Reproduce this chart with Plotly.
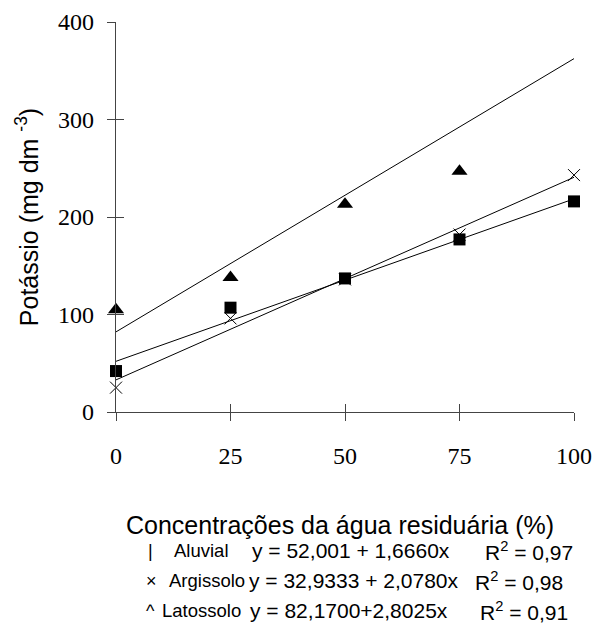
import plotly.graph_objects as go

# ---- data ----
concentracoes = [0, 25, 50, 75, 100]
aluvial = [42, 107, 137, 177, 216]
argissolo = [25, 96, 136, 182, 243]
latossolo = [105, 138, 213, 247, 401]

# regression coefficients (intercept, slope)
coef_aluvial = (52.001, 1.6660)
coef_argissolo = (32.9333, 2.0780)
coef_latossolo = (82.1700, 2.8025)

x_ticks = [0, 25, 50, 75, 100]
y_ticks = [0, 100, 200, 300, 400]

legend_symbols = ["|", "×", "^"]
legend_names = ["Aluvial", "Argissolo", "Latossolo"]
legend_eqs = ["y = 52,001 + 1,6660x", "y = 32,9333 + 2,0780x", "y = 82,1700+2,8025x"]
legend_r2 = ["R<sup>2</sup> = 0,97", "R<sup>2</sup> = 0,98", "R<sup>2</sup> = 0,91"]

# ---- figure ----
OFF = 8  # page body margin
W, H = 594, 626
L, T = 108, 14
R = W - (574.3 - OFF)
B = H - (412.3 - OFF)
pw = W - L - R
ph = H - T - B

fig = go.Figure()

def reg(coef):
    a, b = coef
    xs = [0, 100]
    return xs, [a + b * x for x in xs]

for coef in (coef_aluvial, coef_argissolo, coef_latossolo):
    xs, ys = reg(coef)
    fig.add_trace(go.Scatter(x=xs, y=ys, mode="lines",
                             line=dict(color="black", width=1),
                             showlegend=False, hoverinfo="skip"))

fig.add_trace(go.Scatter(x=concentracoes, y=aluvial, mode="markers",
                         marker=dict(symbol="square", size=12, color="black"),
                         cliponaxis=False, showlegend=False))
fig.add_trace(go.Scatter(x=concentracoes, y=argissolo, mode="markers",
                         marker=dict(symbol="x-thin", size=12,
                                     line=dict(color="black", width=1)),
                         cliponaxis=False, showlegend=False))
fig.add_trace(go.Scatter(x=concentracoes, y=latossolo, mode="markers",
                         marker=dict(symbol="triangle-up", size=14, color="black"),
                         cliponaxis=False, showlegend=False))

# invisible trace for the overlay axes (inner tick halves)
fig.add_trace(go.Scatter(x=[0], y=[0], xaxis="x2", yaxis="y2", mode="markers",
                         marker=dict(opacity=0), showlegend=False, hoverinfo="skip"))

tickfont = dict(family="Liberation Serif, Times New Roman, serif", size=24, color="black")
axline = dict(showline=True, linecolor="#444", linewidth=1.3, showgrid=False, zeroline=False,
              automargin=False)

fig.update_layout(
    width=W, height=H,
    margin=dict(l=L, r=R, t=T, b=B),
    paper_bgcolor="white", plot_bgcolor="white",
    xaxis=dict(range=[0, 100], tickvals=x_ticks, ticktext=[str(v) for v in x_ticks],
               ticks="outside", ticklen=8, tickcolor="#444", tickwidth=1.3,
               tickfont=tickfont, ticklabelstandoff=14, **axline),
    yaxis=dict(range=[0, 400], tickvals=y_ticks, ticktext=[str(v) for v in y_ticks],
               ticks="outside", ticklen=8, tickcolor="#444", tickwidth=1.3,
               tickfont=tickfont, ticklabelstandoff=8,
               title=dict(text="Potássio (mg dm <sup>-3</sup>)",
                          font=dict(family="Liberation Sans, Arial, sans-serif", size=25, color="black"),
                          standoff=12),
               **axline),
    xaxis2=dict(range=[0, 100], overlaying="x", tickvals=x_ticks, ticks="inside",
                ticklen=8, tickcolor="#444", tickwidth=1.3, showticklabels=False,
                showgrid=False, zeroline=False, showline=False, automargin=False),
    yaxis2=dict(range=[0, 400], overlaying="y", tickvals=y_ticks, ticks="inside",
                ticklen=8, tickcolor="#444", tickwidth=1.3, showticklabels=False,
                showgrid=False, zeroline=False, showline=False, automargin=False),
    font=dict(family="Liberation Sans, Arial, sans-serif", color="black"),
)

def px2paper(px, py):
    return (px - OFF - L) / pw, (H - B - (py - OFF)) / ph

annots = []
# x-axis title
xx, yy = px2paper(340, 525)
annots.append(dict(text="Concentrações da água residuária (%)", x=xx, y=yy,
                   xref="paper", yref="paper", showarrow=False, xanchor="center", yanchor="middle",
                   font=dict(family="Liberation Sans, Arial, sans-serif", size=25)))

rows_y = [551, 581, 611]
sym_x = [146, 144, 144]
name_x = [172, 167, 160]
eq_x = [250, 247, 248]
r2_x = [483, 473, 478]
for i in range(3):
    for txt, px, fs in ((legend_symbols[i], sym_x[i], 18), (legend_names[i], name_x[i], 18.5),
                        (legend_eqs[i], eq_x[i], 21), (legend_r2[i], r2_x[i], 21)):
        ax_, ay_ = px2paper(px, rows_y[i])
        annots.append(dict(text=txt, x=ax_, y=ay_, xref="paper", yref="paper",
                           showarrow=False, xanchor="left", yanchor="middle",
                           font=dict(family="Liberation Sans, Arial, sans-serif", size=fs)))

fig.update_layout(annotations=annots)

fig.write_html("out.html")
